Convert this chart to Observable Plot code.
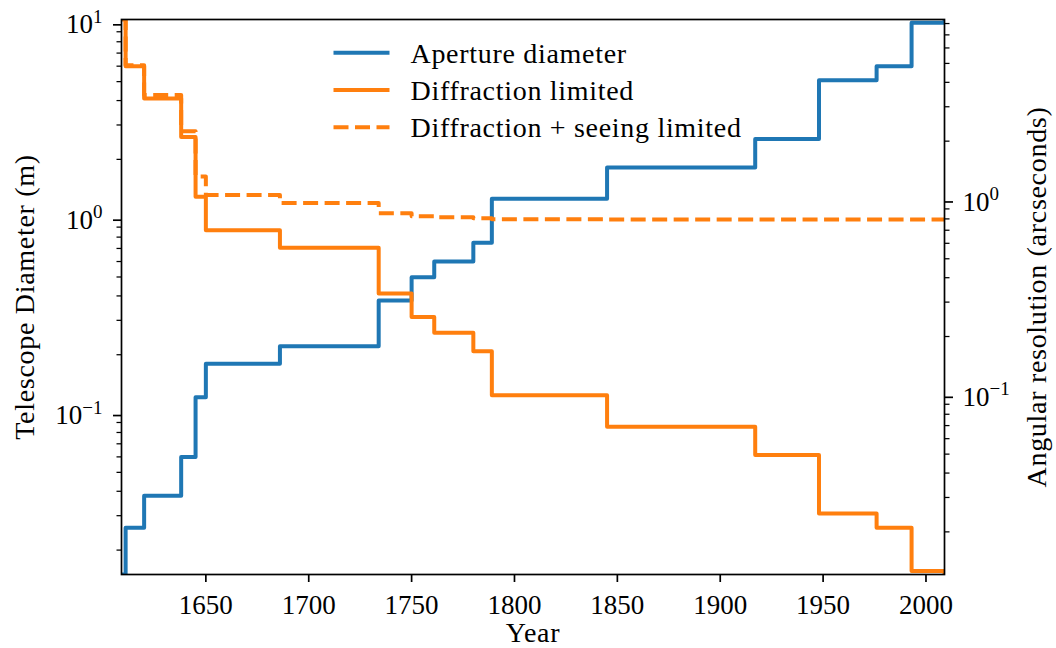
<!DOCTYPE html>
<html>
<head>
<meta charset="utf-8">
<script src="https://cdn.jsdelivr.net/npm/d3@7"></script>
<script src="https://cdn.jsdelivr.net/npm/@observablehq/plot@0.6"></script>
<style>
  html, body { margin: 0; padding: 0; background: #fff; overflow: hidden; }
  #chart svg { display: block; }
  #chart svg text { font-family: "Liberation Serif", serif; }
</style>
</head>
<body>
<div id="chart"></div>
<script>
// Largest telescope aperture over time, with the resolution it allows.
const years = [1609, 1611, 1620, 1638, 1645, 1650, 1686, 1734, 1750, 1761, 1780, 1789, 1845, 1917, 1948, 1976, 1993, 2009];
const apertureM = [0.015, 0.026, 0.038, 0.060, 0.121, 0.180, 0.221, 0.379, 0.499, 0.601, 0.748, 1.257, 1.82, 2.54, 5.08, 6.0, 10.0, 10.4];
// Angular resolution in arcseconds
const diffractionArcsec = [8.39, 4.84, 3.31, 2.10, 1.04, 0.699, 0.569, 0.332, 0.252, 0.209, 0.168, 0.100, 0.0691, 0.0495, 0.0248, 0.0210, 0.0126, 0.0121];
const seeingArcsec = [8.43, 4.90, 3.45, 2.25, 1.32, 1.06, 0.965, 0.855, 0.825, 0.815, 0.806, 0.797, 0.795, 0.794, 0.794, 0.794, 0.794, 0.794];

const xTicks = [1650, 1700, 1750, 1800, 1850, 1900, 1950, 2000];
const leftMajorTicks = [0.1, 1, 10];
const rightMajorTicks = [0.1, 1];
const seriesLabels = ["Aperture diameter", "Diffraction limited", "Diffraction + seeing limited"];

const blue = "#1f77b4";
const orange = "#ff7f0e";
const font = "Liberation Serif";
const tickFontSize = 27;
const labelFontSize = 28;
const labelSpacing = "0.7px";

const width = 1056, height = 648;
const margin = {top: 19, right: 112, bottom: 74, left: 121};

const xDomain = [1609, 2009];
const leftDomain = [0.015, 10.4];   // metres
const rightDomain = [0.0121, 8.39]; // arcseconds
// Both log axes span the same number of decades, so arcseconds map onto the
// diameter scale by a constant factor.
const toLeft = leftDomain[1] / rightDomain[1];

const rows = years.map((year, i) => ({
  year,
  aperture: apertureM[i],
  diffraction: diffractionArcsec[i],
  seeing: seeingArcsec[i]
}));

// 2..9 × 10^k minor ticks inside [lo, hi]
function minorTicks([lo, hi]) {
  const out = [];
  for (let k = Math.floor(Math.log10(lo)); k <= Math.ceil(Math.log10(hi)); k++) {
    for (let m = 2; m <= 9; m++) {
      const v = m * Math.pow(10, k);
      if (v >= lo && v <= hi) out.push(v);
    }
  }
  return out;
}

const powerLabel = (v) => "10^" + String(Math.round(Math.log10(v))).replace("-", "\u2212");

const chart = Plot.plot({
  width, height,
  marginTop: margin.top, marginRight: margin.right,
  marginBottom: margin.bottom, marginLeft: margin.left,
  style: {fontFamily: `"${font}", serif`, fontSize: tickFontSize + "px", color: "black", background: "white"},
  x: {domain: xDomain},
  y: {type: "log", domain: leftDomain},
  marks: [
    Plot.line(rows, {x: "year", y: "aperture", curve: "step-after", stroke: blue, strokeWidth: 4, strokeLinecap: "square", clip: true}),
    Plot.line(rows, {x: "year", y: (d) => d.diffraction * toLeft, curve: "step-after", stroke: orange, strokeWidth: 4, strokeLinecap: "square", clip: true}),
    Plot.line(rows, {x: "year", y: (d) => d.seeing * toLeft, curve: "step-after", stroke: orange, strokeWidth: 4, strokeDasharray: "15,6.5", strokeLinecap: "butt", clip: true}),

    Plot.axisX(xTicks, {tickSize: 8, tickPadding: 12, strokeWidth: 1.7, tickFormat: (d) => String(d), label: null, fontSize: tickFontSize}),
    Plot.axisY(leftMajorTicks, {anchor: "left", tickSize: 8, tickPadding: 11, strokeWidth: 1.7, tickFormat: powerLabel, label: null, dy: 2, fontSize: tickFontSize}),
    Plot.axisY(minorTicks(leftDomain), {anchor: "left", tickSize: 4.5, strokeWidth: 1.25, tickFormat: () => "", label: null}),
    Plot.axisY(rightMajorTicks.map((d) => d * toLeft), {anchor: "right", tickSize: 8, tickPadding: 10, strokeWidth: 1.7, tickFormat: (d) => powerLabel(d / toLeft), label: null, dy: 2, fontSize: tickFontSize}),
    Plot.axisY(minorTicks(rightDomain).map((d) => d * toLeft), {anchor: "right", tickSize: 4.5, strokeWidth: 1.25, tickFormat: () => "", label: null}),

    Plot.text(["Year"], {frameAnchor: "bottom", textAnchor: "middle", lineAnchor: "middle", dy: 59, fontSize: labelFontSize}),
    Plot.text(["Telescope Diameter (m)"], {frameAnchor: "left", textAnchor: "middle", lineAnchor: "middle", rotate: -90, dx: -96, fontSize: labelFontSize}),
    Plot.text(["Angular resolution (arcseconds)"], {frameAnchor: "right", textAnchor: "middle", lineAnchor: "middle", rotate: -90, dx: 93, fontSize: labelFontSize}),

    Plot.frame({stroke: "black", strokeWidth: 1.7})
  ]
});

// Axis titles get a touch of tracking
const titles = ["Year", "Telescope Diameter (m)", "Angular resolution (arcseconds)"];
chart.querySelectorAll("text").forEach((t) => {
  if (titles.includes(t.textContent)) t.setAttribute("letter-spacing", labelSpacing);
});

// Power-of-ten tick labels: raise the exponent
const SVGNS = "http://www.w3.org/2000/svg";
chart.querySelectorAll("text").forEach((t) => {
  const m = /^10\^(.+)$/.exec(t.textContent);
  if (!m) return;
  t.textContent = "";
  const base = document.createElementNS(SVGNS, "tspan");
  base.textContent = "10";
  const exp = document.createElementNS(SVGNS, "tspan");
  exp.textContent = m[1];
  exp.setAttribute("dy", "-10.5");
  exp.setAttribute("font-size", Math.round(tickFontSize * 0.7));
  t.appendChild(base);
  t.appendChild(exp);
});

// Legend, centred near the top of the plotting area
const legend = d3.select(chart).append("g")
  .style("font-family", `"${font}", serif`)
  .attr("font-size", labelFontSize)
  .attr("letter-spacing", labelSpacing)
  .attr("text-anchor", "start");
const legendStyles = [
  {stroke: blue, dash: null},
  {stroke: orange, dash: null},
  {stroke: orange, dash: "15,6.5"}
];
const centreX = (margin.left + (width - margin.right)) / 2;
const lineX0 = centreX - 199, lineX1 = centreX - 143, textX = centreX - 122;
const rowY0 = margin.top + 33.7, rowStep = 37.3;
seriesLabels.forEach((label, i) => {
  const y = rowY0 + i * rowStep;
  legend.append("line")
    .attr("x1", lineX0).attr("x2", lineX1).attr("y1", y).attr("y2", y)
    .attr("stroke", legendStyles[i].stroke).attr("stroke-width", 4)
    .attr("stroke-dasharray", legendStyles[i].dash);
  legend.append("text").attr("x", textX).attr("y", y).attr("dy", "0.35em").text(label);
});

document.getElementById("chart").appendChild(chart);
</script>
</body>
</html>
